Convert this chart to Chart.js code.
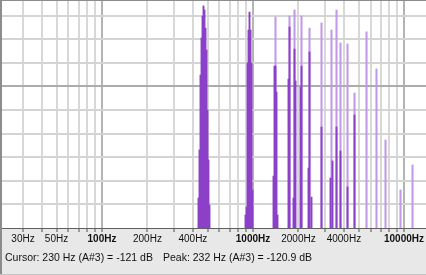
<!DOCTYPE html>
<html><head><meta charset="utf-8">
<script src="https://cdn.jsdelivr.net/npm/chart.js@4.4.1/dist/chart.umd.min.js"></script>
<style>
html,body{margin:0;padding:0;background:#e8e8e8;}
#wrap{position:relative;width:426px;height:275px;overflow:hidden;}
canvas{display:block;}
.st{position:absolute;top:251px;font:10.5px "Liberation Sans",Arial,sans-serif;color:#111;white-space:pre;}
</style></head><body>
<div id="wrap"><canvas id="c" width="426" height="275"></canvas>
<span class="st" id="s1" style="left:5px"></span><span class="st" id="s2" style="left:163px"></span></div>
<script>
// Frequency grid / tick labels
const gridFreqs = [30,40,50,60,70,80,90,100,200,300,400,500,600,700,800,900,1000,2000,3000,4000,5000,6000,7000,8000,9000,10000];
const labelFreqs = [30,50,100,200,400,1000,2000,4000,10000];
const tickLabels = ['30Hz','50Hz','100Hz','200Hz','400Hz','1000Hz','2000Hz','4000Hz','10000Hz'];
const levelGrid = [-90,-80,-70,-60,-50,-40,-30,-20,-10];
// Spectrum body (dark) columns: frequency (Hz) and level (dB)
const bodyFreqs = [435.6,442.3,449.1,456.0,463.0,470.1,477.3,484.7,492.1,499.7,507.3,515.1,
  892,906,920,934,948,963,977,992,
  1367,1388,1409,1431,1453,1718,1745,1854,1883,1912,2063,2095,2331,2367,2440,2842,3260,3361,3573,3797,4225,4701];
const bodyLevels = [-87.3,-66.9,-35.2,-19.5,-10.2,-5.9,-7.6,-15.3,-24.6,-50.0,-71.2,-90.3,
  -94.5,-91.1,-30.1,-16.1,-8.5,-16.1,-30.1,-83.9,
  -78.0,-31.4,-31.4,-42.4,-94.5,-36.9,-14.8,-87.3,-24.2,-37.7,-40.3,-31.4,-74.6,-25.4,-86.9,-57.2,-78.8,-71.6,-57.2,-67.4,-82.6,-52.1];
// Thin peak tips (light)
const peakFreqs = [1409,1745,1883,2095,2367,2842,3310,3573,3797,4225,4701,5645,6575,7541,9480,11384];
const peakLevels = [-10.6,-10.2,-7.6,-10.2,-15.3,-13.1,-16.1,-7.6,-21.6,-22.0,-42.8,-16.9,-32.6,-62.7,-83.9,-73.3];
const cursorText = 'Cursor: 230 Hz (A#3) = -121 dB';
const peakText = 'Peak: 232 Hz (A#3) = -120.9 dB';

document.getElementById('s1').textContent = cursorText;
document.getElementById('s2').textContent = peakText;

const isDecade = v => [100,1000,10000].includes(v);
const frame = {
  id: 'frame',
  beforeDraw(chart) {
    const {ctx, chartArea: a} = chart;
    ctx.save();
    ctx.fillStyle = '#e8e8e8'; ctx.fillRect(0, 0, chart.width, chart.height);
    ctx.fillStyle = '#ffffff'; ctx.fillRect(a.left, a.top, a.right - a.left, a.bottom - a.top);
    ctx.restore();
  },
  afterDraw(chart) {
    const {ctx} = chart;
    ctx.save();
    ctx.fillStyle = '#8c8c8c';
    ctx.fillRect(0, 0, chart.width, 1);
    ctx.fillRect(0, 0, 2, chart.height);
    ctx.fillStyle = '#c4c4c4';
    ctx.fillRect(0, chart.height - 1, chart.width, 1);
    ctx.restore();
  }
};

new Chart(document.getElementById('c'), {
  type: 'bar',
  data: {
    datasets: [
      { label: 'body', data: bodyFreqs.map((f, i) => ({x: f, y: bodyLevels[i]})), stack: 'spec',
        backgroundColor: '#8c40c8', base: -100, barThickness: 1.25, order: 0, borderWidth: 0 },
      { label: 'peaks', data: peakFreqs.map((f, i) => ({x: f, y: peakLevels[i]})), stack: 'spec',
        backgroundColor: '#c298e8', base: -100, barThickness: 1.4, order: 1, borderWidth: 0 }
    ]
  },
  options: {
    responsive: false, animation: false, devicePixelRatio: 1,
    layout: { padding: { left: 2, top: 1, right: 0, bottom: 0 } },
    plugins: { legend: { display: false }, tooltip: { enabled: false } },
    scales: {
      x: {
        type: 'logarithmic', min: 21.77, max: 13984, bounds: 'data', offset: false, stacked: true,
        afterBuildTicks: s => { s.ticks = gridFreqs.map(v => ({ value: v })); },
        afterFit: s => { s.height = 47; },
        grid: { offset: false, lineWidth: 2, tickLength: 4, tickWidth: 1, tickColor: '#505050',
          color: c => (c.tick && isDecade(c.tick.value)) ? '#b4b4b4' : '#d8d8d8' },
        border: { color: '#606060', width: 1 },
        ticks: { autoSkip: false, maxRotation: 0, minRotation: 0, padding: 1, color: '#111',
          font: c => ({ family: '"Liberation Sans", Arial, sans-serif', size: 10, weight: (c.tick && isDecade(c.tick.value)) ? 'bold' : 'normal' }),
          callback: v => { const i = labelFreqs.indexOf(v); return i >= 0 ? tickLabels[i] : ''; } }
      },
      y: {
        type: 'linear', min: -100, max: -3.81, bounds: 'data', stacked: false,
        afterBuildTicks: s => { s.ticks = levelGrid.map(v => ({ value: v })); },
        afterFit: s => { s.width = 0; },
        ticks: { display: false },
        grid: { drawTicks: false, lineWidth: 2, color: c => (c.tick && c.tick.value === -40) ? '#acacac' : '#d4d4d4' },
        border: { display: false }
      }
    }
  },
  plugins: [frame]
});
</script>
</body></html>
